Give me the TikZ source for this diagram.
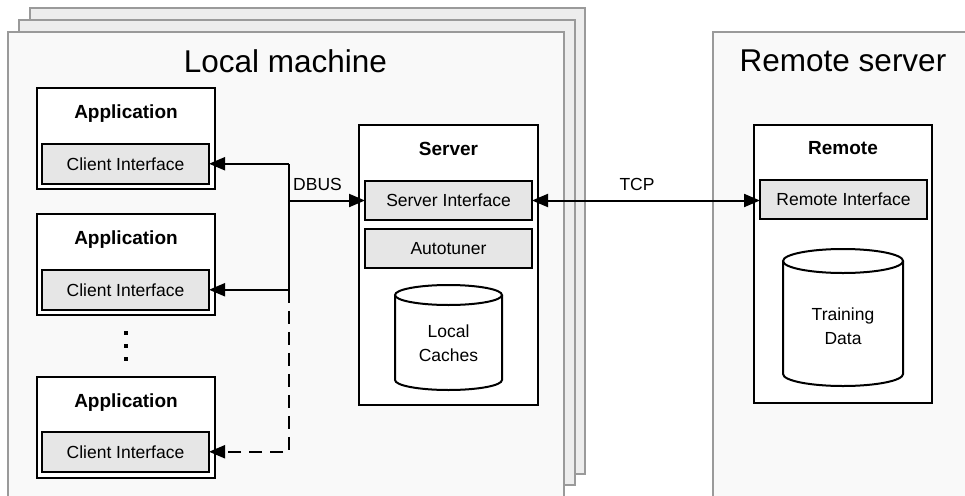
\documentclass[tikz,border=0pt]{standalone}
\usepackage{fontspec}
\setmainfont{Liberation Sans}
\usetikzlibrary{arrows.meta}
\definecolor{pageedge}{HTML}{9A9A9A}
\definecolor{pagefill}{HTML}{F9F9F9}
\definecolor{pageback}{HTML}{EDEDED}
\definecolor{ifacefill}{HTML}{E6E6E6}
\newcommand\normalfs{\fontsize{17.5}{23.5}\selectfont}
\newcommand\boldfs{\fontsize{19}{23}\selectfont\bfseries}
\newcommand\bigfs{\fontsize{31.5}{36}\selectfont}

\begin{document}
\begin{tikzpicture}[x=1pt,y=-1pt,
  page/.style={draw=pageedge, line width=2pt, fill=pagefill, anchor=north west,
    inner sep=0pt, outer sep=0pt},
  backpage/.style={page, fill=pageback},
  block/.style={draw=black, line width=2pt, fill=white, anchor=north west,
    inner sep=0pt, outer sep=0pt},
  iface/.style={block, fill=ifacefill, font=\normalfs},
  appbox/.style={block, minimum width=178pt, minimum height=101pt},
  clientbox/.style={iface, minimum width=167pt, minimum height=39.5pt},
  heading/.style={anchor=base, inner sep=0pt, font=\boldfs},
  bigtitle/.style={anchor=base, inner sep=0pt, font=\bigfs},
  label/.style={anchor=base, inner sep=0pt, font=\normalfs},
  dbtext/.style={inner sep=0pt, align=center, font=\normalfs},
  cylline/.style={line width=2pt, fill=white},
  dotmark/.style={fill=black, inner sep=0pt, minimum size=3.8pt},
  conn/.style={draw=black, line width=2pt},
  tip/.tip={Triangle[length=16pt,width=13pt]},
  arr/.style={-tip},
  dasharr/.style={conn, arr, dash pattern=on 13pt off 8pt}
]
\useasboundingbox (0,0) rectangle (965,495);
\clip (0,0) rectangle (965,495);

% stacked local machines
\node[backpage, minimum width=555.5pt, minimum height=465pt] (pageback) at (29.5,8.5) {};
\node[backpage, minimum width=556pt, minimum height=464.5pt] (pagemid) at (18.5,20) {};
\node[page, minimum width=556pt, minimum height=480pt] (local) at (7.5,32) {};
\node[bigtitle] (localtitle) at (285.5,72) {Local machine};

% remote machine
\node[page, minimum width=270pt, minimum height=480pt] (remotepage) at (713,32) {};
\node[bigtitle] (remotetitle) at (843,71.5) {Remote server};

% applications
\node[appbox] (app1) at (37,88) {};
\node[heading] (app1t) at (126,118) {Application};
\node[clientbox] (c1) at (42,144) {Client Interface};

\node[appbox] (app2) at (37,214) {};
\node[heading] (app2t) at (126,244) {Application};
\node[clientbox] (c2) at (42,270) {Client Interface};

\node[dotmark] (d1) at (126,333) {};
\node[dotmark] (d2) at (126,346) {};
\node[dotmark] (d3) at (126,359) {};

\node[appbox] (app3) at (37,377) {};
\node[heading] (app3t) at (126,407) {Application};
\node[clientbox] (c3) at (42,432) {Client Interface};

% local server
\node[block, minimum width=179pt, minimum height=280pt] (server) at (359,125) {};
\node[heading] (servert) at (448.5,155) {Server};
\node[iface, minimum width=167pt, minimum height=39pt] (si) at (365,181) {Server Interface};
\node[iface, minimum width=167pt, minimum height=39pt] (auto) at (365,229) {Autotuner};
\draw[cylline] (395,295) -- (395,380)
  arc[start angle=180, end angle=360, x radius=53.5pt, y radius=10pt] -- (502,295);
\draw[cylline] (448.5,295) ellipse[x radius=53.5pt, y radius=10pt];
\node[dbtext] (cache) at (448.5,343) {Local\\Caches};

% remote server
\node[block, minimum width=178pt, minimum height=278pt] (remote) at (754,125) {};
\node[heading] (remotet) at (843,154) {Remote};
\node[iface, minimum width=167pt, minimum height=39pt] (ri) at (760,180) {Remote Interface};
\draw[cylline] (783,261) -- (783,374)
  arc[start angle=180, end angle=360, x radius=60pt, y radius=12pt] -- (903,261);
\draw[cylline] (843,261) ellipse[x radius=60pt, y radius=12pt];
\node[dbtext] (train) at (843,326) {Training\\Data};

% DBUS connections
\coordinate (bus) at (289,200);
\draw[conn] (bus |- c1.east) -- (bus |- c2.east);
\draw[conn, arr] (bus |- c1.east) -- (c1.east);
\draw[conn, arr] (bus |- c2.east) -- (c2.east);
\draw[dasharr] (bus |- c2.east) -- (bus |- c3.east) -- (c3.east);
\draw[conn, arr] (bus |- si.west) -- (si.west);
\node[label] (dbus) at (317.5,190) {DBUS};

% TCP connection
\draw[conn, tip-tip] (si.east) -- (si.east -| ri.west);
\node[label] (tcp) at (637,190) {TCP};
\end{tikzpicture}
\end{document}
